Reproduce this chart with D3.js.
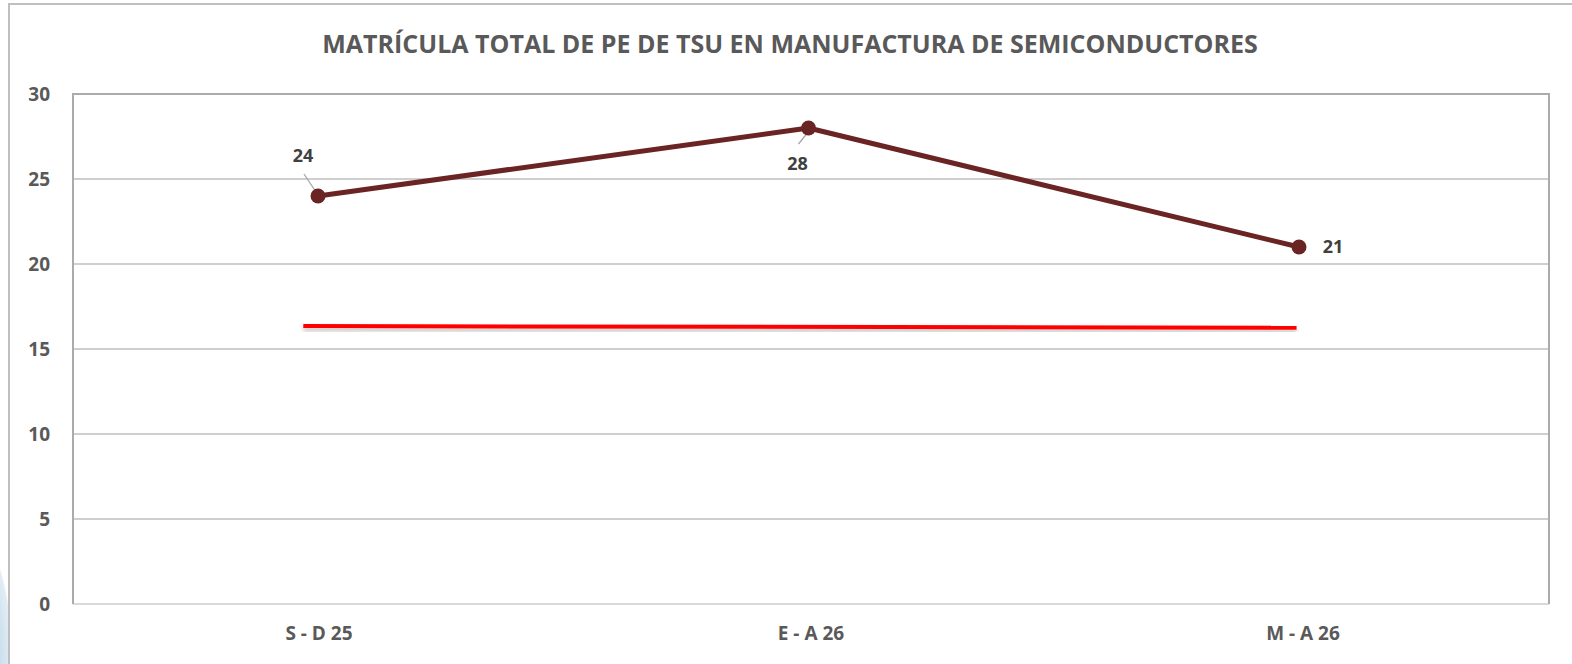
<!DOCTYPE html>
<html>
<head>
<meta charset="utf-8">
<script src="https://cdn.jsdelivr.net/npm/d3@7"></script>
<style>
    body { margin: 0; background: #fff; }
    text { font-family: "Open Sans", sans-serif; font-weight: bold; fill: #595959; }
</style>
</head>
<body>
<div id="chart"></div>
<script>
var title = "MATRÍCULA TOTAL DE PE DE TSU EN MANUFACTURA DE SEMICONDUCTORES";
var periods = ["S - D 25", "E - A 26", "M - A 26"];
var enrollment = [24, 28, 21];
var yTicks = [0, 5, 10, 15, 20, 25, 30];
// red reference line, drawn as a shape over the chart (start/end in category index, value)
var targetIdx = [-0.03, 1.995];
var targetVal = [16.35, 16.25];

var width = 1572, height = 664;
var margin = { top: 94, right: 23, bottom: 60, left: 73 };
var plotW = width - margin.left - margin.right;
var plotH = height - margin.top - margin.bottom;

var svg = d3.select("#chart").append("svg")
    .attr("width", width)
    .attr("height", height);

var defs = svg.append("defs");
var grad = defs.append("radialGradient").attr("id", "blob");
grad.append("stop").attr("offset", "0%").attr("stop-color", "#8fb9d6");
grad.append("stop").attr("offset", "100%").attr("stop-color", "#e3eef5");
var shadow = defs.append("filter").attr("id", "shadow")
    .attr("x", "-5%").attr("y", "-200%").attr("width", "110%").attr("height", "500%");
shadow.append("feDropShadow")
    .attr("dx", 0).attr("dy", 3).attr("stdDeviation", 2)
    .attr("flood-color", "#000").attr("flood-opacity", 0.25);

// background blob at bottom-left
svg.append("ellipse")
    .attr("cx", -30).attr("cy", 660).attr("rx", 42).attr("ry", 130)
    .attr("fill", "url(#blob)");

// outer frame
svg.append("rect")
    .attr("x", 9).attr("y", 4)
    .attr("width", width).attr("height", height)
    .attr("fill", "#fff")
    .attr("stroke", "#bfbfbf")
    .attr("stroke-width", 2);

var x = d3.scaleBand()
    .domain(periods)
    .range([0, plotW]);
var xi = d3.scaleLinear()
    .domain([0, periods.length - 1])
    .range([x(periods[0]) + x.bandwidth() / 2 - 1, x(periods[2]) + x.bandwidth() / 2 - 4]);
var y = d3.scaleLinear()
    .domain([0, 30])
    .range([plotH, 0]);

var g = svg.append("g")
    .attr("transform", "translate(" + margin.left + "," + margin.top + ")");

// gridlines
g.selectAll(".grid")
    .data(yTicks)
    .enter()
    .append("line")
        .attr("class", "grid")
        .attr("x1", 0)
        .attr("x2", plotW)
        .attr("y1", d => y(d))
        .attr("y2", d => y(d))
        .attr("stroke", d => d == 0 ? "#d9d9d9" : "#bfbfbf")
        .attr("stroke-width", d => d == 0 ? 2 : 1.3);

// plot border (left, top, right)
g.append("path")
    .attr("d", "M0," + y(0) + "V" + y(30) + "H" + plotW + "V" + y(0))
    .attr("fill", "none")
    .attr("stroke", "#ababab")
    .attr("stroke-width", 2);

// y labels
g.selectAll(".ylab")
    .data(yTicks)
    .enter()
    .append("text")
        .attr("class", "ylab")
        .attr("x", -23)
        .attr("y", d => y(d))
        .attr("dy", "0.36em")
        .attr("text-anchor", "end")
        .style("font-size", "19px")
        .text(d => d);

// x labels
g.selectAll(".xlab")
    .data(periods)
    .enter()
    .append("text")
        .attr("class", "xlab")
        .attr("x", d => x(d) + x.bandwidth() / 2)
        .attr("y", plotH + 36)
        .attr("text-anchor", "middle")
        .style("font-size", "19px")
        .text(d => d);

// red reference line
g.append("line")
    .attr("x1", xi(targetIdx[0]))
    .attr("x2", xi(targetIdx[1]))
    .attr("y1", y(targetVal[0]))
    .attr("y2", y(targetVal[1]))
    .attr("stroke", "#ff0000")
    .attr("stroke-width", 4)
    .attr("filter", "url(#shadow)");

// main series
var line = d3.line()
    .x((d, i) => xi(i))
    .y(d => y(d));

g.append("path")
    .datum(enrollment)
    .attr("d", line)
    .attr("fill", "none")
    .attr("stroke", "#6b2424")
    .attr("stroke-width", 5)
    .attr("stroke-linejoin", "round");

// leader lines
var leaders = [
    { i: 0, dx1: -14, dy1: -22, dx2: -2, dy2: -4 },
    { i: 1, dx1: -10, dy1: 16, dx2: 2, dy2: 1 }
];
g.selectAll(".leader")
    .data(leaders)
    .enter()
    .append("line")
        .attr("class", "leader")
        .attr("x1", d => xi(d.i) + d.dx1)
        .attr("y1", d => y(enrollment[d.i]) + d.dy1)
        .attr("x2", d => xi(d.i) + d.dx2)
        .attr("y2", d => y(enrollment[d.i]) + d.dy2)
        .attr("stroke", "#a6a6a6")
        .attr("stroke-width", 1.3);

g.selectAll(".dot")
    .data(enrollment)
    .enter()
    .append("circle")
        .attr("class", "dot")
        .attr("cx", (d, i) => xi(i))
        .attr("cy", d => y(d))
        .attr("r", 7.5)
        .attr("fill", "#6b2424");

// data labels
var labelPos = [
    { dx: -15, dy: -40 },
    { dx: -11, dy: 36 },
    { dx: 34, dy: 0 }
];
g.selectAll(".val")
    .data(enrollment)
    .enter()
    .append("text")
        .attr("class", "val")
        .attr("x", (d, i) => xi(i) + labelPos[i].dx)
        .attr("y", (d, i) => y(d) + labelPos[i].dy)
        .attr("dy", "0.36em")
        .attr("text-anchor", "middle")
        .style("font-size", "18px")
        .style("fill", "#404040")
        .text(d => d);

// title
svg.append("text")
    .attr("x", 790)
    .attr("y", 44)
    .attr("dy", "0.36em")
    .attr("text-anchor", "middle")
    .style("font-size", "25px")
    .text(title);
</script>
</body>
</html>
